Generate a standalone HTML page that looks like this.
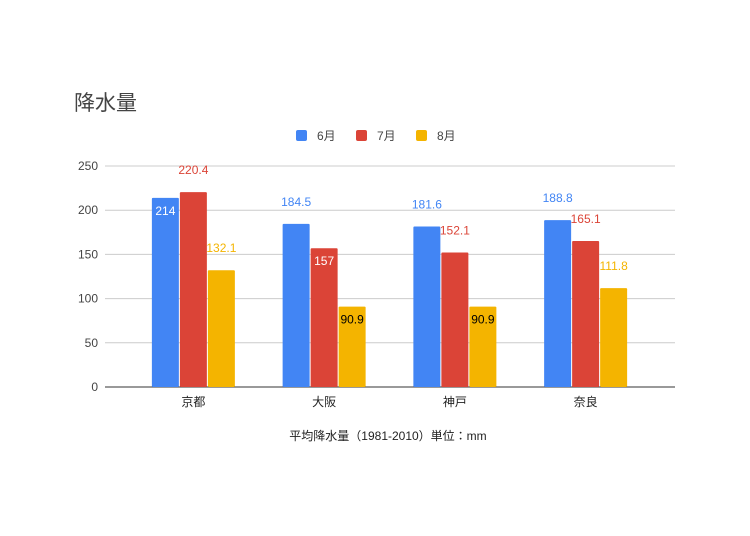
<!DOCTYPE html>
<html><head><meta charset="utf-8">
<style>
body{margin:0;background:#fff;}
svg{display:block;font-family:"Liberation Sans","Noto Sans CJK JP",sans-serif;}
</style></head>
<body>
<svg id="chart" width="750" height="536">
<text x="74" y="110" font-size="21" fill="#444">降水量</text>
<g id="legend"></g>
<g id="grid"></g>
<g id="bars"></g>
<g id="labels"></g>
<text x="388" y="440" font-size="12" fill="#222" text-anchor="middle">平均降水量（1981-2010）単位：mm</text>
</svg>
<script>
const categories=["京都","大阪","神戸","奈良"];
const seriesNames=["6月","7月","8月"];
const june=[214,184.5,181.6,188.8];
const july=[220.4,157,152.1,165.1];
const august=[132.1,90.9,90.9,111.8];
const yTicks=[0,50,100,150,200,250];
const labelModes=[["in-white","above","above","above"],["above","in-white","above","above"],["above","in-black","in-black","above"]];
const series=[june,july,august];
const colors=["#4285f4","#db4437","#f4b400"];
const NS="http://www.w3.org/2000/svg";
const y0=387,y1=166,xL=105,xR=675,bandL=128,bandR=651;
function y(v){return y0-(v/250)*(y0-y1);}
const band=(bandR-bandL)/categories.length;
const bw=27,gap=1;
function xc(i){return bandL+band*(i+0.5);}
function mk(tag,attrs,parent){const e=document.createElementNS(NS,tag);for(const k in attrs)e.setAttribute(k,attrs[k]);parent.appendChild(e);return e;}
const grid=document.getElementById('grid');
yTicks.forEach(t=>{
 const l=mk('line',{x1:xL,x2:xR,y1:y(t),y2:y(t),stroke:t===0?'#333':'#ccc','stroke-width':1},grid);
 
 
 const tx=mk('text',{x:98,y:y(t)+4,'font-size':12,fill:'#444','text-anchor':'end'},grid);
 tx.textContent=t;
 
 
});
categories.forEach((c,i)=>{
 const tx=mk('text',{x:xc(i),y:406,'font-size':12,fill:'#222','text-anchor':'middle'},grid);
 tx.textContent=c;
 
 
});
const bars=document.getElementById('bars'),labels=document.getElementById('labels');
series.forEach((s,si)=>{
 s.forEach((v,i)=>{
  const x=xc(i)+(si-1)*(bw+gap)-bw/2;
  const r=mk('rect',{x:x,y:y(v),width:bw,height:y0-y(v),fill:colors[si],rx:1},bars);
  
  
  const mode=labelModes[si][i];
  let ly,fill;
  if(mode==='above'){ly=y(v)-18;fill=colors[si];}
  else if(mode==='in-white'){ly=y(v)+17;fill='#fff';}
  else{ly=y(v)+17;fill='#000';}
  const t=mk('text',{x:x+bw/2,y:ly,'font-size':12,fill:fill,'text-anchor':'middle'},labels);
  t.textContent=v;
  
  
 });
});
const lg=document.getElementById('legend');
const lx=[296,356,416];
seriesNames.forEach((n,i)=>{
 const r=mk('rect',{x:lx[i],y:130,width:11,height:11,fill:colors[i],rx:2},lg);
 
 
 const t=mk('text',{x:lx[i]+21,y:140,'font-size':12,fill:'#444'},lg);
 t.textContent=n;
 
 
});
</script>
</body></html>
